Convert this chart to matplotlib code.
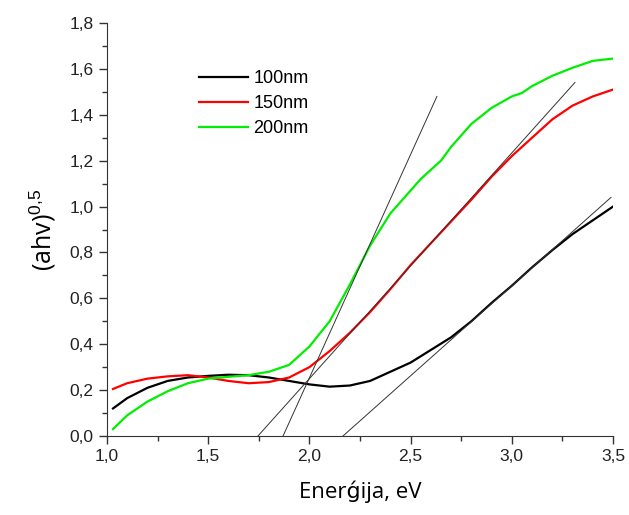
import matplotlib
matplotlib.use('Agg')
import matplotlib.pyplot as plt
from matplotlib.ticker import MultipleLocator, FuncFormatter

plt.rcParams['mathtext.fontset'] = 'custom'
plt.rcParams['mathtext.rm'] = 'Liberation Sans'

# kreivės (nuskaityta nuo paveikslo)
x_100 = [1.03, 1.1, 1.2, 1.3, 1.4, 1.5, 1.6, 1.7, 1.8, 1.9, 2.0, 2.1, 2.2, 2.3,
         2.4, 2.5, 2.6, 2.7, 2.8, 2.9, 3.0, 3.1, 3.2, 3.3, 3.4, 3.5]
y_100 = [0.12, 0.165, 0.21, 0.24, 0.255, 0.262, 0.267, 0.265, 0.255, 0.24, 0.225,
         0.215, 0.22, 0.24, 0.28, 0.32, 0.375, 0.43, 0.50, 0.58, 0.655, 0.735,
         0.81, 0.88, 0.94, 1.00]

x_150 = [1.03, 1.1, 1.2, 1.3, 1.4, 1.5, 1.6, 1.7, 1.8, 1.9, 2.0, 2.1, 2.2, 2.3,
         2.4, 2.5, 2.6, 2.7, 2.8, 2.9, 3.0, 3.1, 3.2, 3.3, 3.4, 3.5]
y_150 = [0.205, 0.23, 0.25, 0.26, 0.265, 0.255, 0.24, 0.23, 0.235, 0.255, 0.30,
         0.37, 0.45, 0.54, 0.64, 0.745, 0.84, 0.935, 1.03, 1.13, 1.22, 1.30,
         1.38, 1.44, 1.48, 1.51]

x_200 = [1.03, 1.1, 1.2, 1.3, 1.4, 1.5, 1.6, 1.7, 1.8, 1.9, 2.0, 2.1, 2.2, 2.3,
         2.4, 2.5, 2.55, 2.6, 2.65, 2.7, 2.8, 2.9, 3.0, 3.05, 3.1, 3.2, 3.3,
         3.4, 3.5]
y_200 = [0.03, 0.09, 0.15, 0.195, 0.23, 0.25, 0.258, 0.265, 0.28, 0.31, 0.39,
         0.50, 0.66, 0.83, 0.97, 1.07, 1.12, 1.16, 1.20, 1.26, 1.36, 1.43, 1.48,
         1.495, 1.525, 1.57, 1.605, 1.635, 1.645]

# liestinės (pradžia ir pabaiga)
tan_x = [[1.870, 2.630], [1.746, 3.312], [2.166, 3.490]]
tan_y = [[0.0, 1.480], [0.0, 1.541], [0.0, 1.040]]

fig = plt.figure(figsize=(6.29, 5.15), dpi=100)
ax = fig.add_axes([0.170, 0.1534, 0.8046, 0.8019])

ax.plot(x_100, y_100, color='black', lw=1.6, label='100nm')
ax.plot(x_150, y_150, color='#ff0000', lw=1.6, label='150nm')
ax.plot(x_200, y_200, color='#00ee00', lw=1.6, label='200nm')
for tx, ty in zip(tan_x, tan_y):
    ax.plot(tx, ty, color='#333333', lw=0.7)

ax.set_xlim(1.0, 3.5)
ax.set_ylim(0.0, 1.8)
ax.xaxis.set_major_locator(MultipleLocator(0.5))
ax.xaxis.set_minor_locator(MultipleLocator(0.25))
ax.yaxis.set_major_locator(MultipleLocator(0.2))
ax.yaxis.set_minor_locator(MultipleLocator(0.1))
fmt = FuncFormatter(lambda v, p: f'{v:.1f}'.replace('.', ','))
ax.xaxis.set_major_formatter(fmt)
ax.yaxis.set_major_formatter(fmt)

for s in ['top', 'right']:
    ax.spines[s].set_visible(False)
for s in ['left', 'bottom']:
    ax.spines[s].set_color('#333333')
ax.tick_params(which='major', direction='out', length=6, width=1, colors='#333333',
               labelsize=12.5, labelcolor='#222222')
ax.tick_params(which='minor', direction='out', length=3.5, width=1, colors='#333333')
for lab in ax.get_xticklabels() + ax.get_yticklabels():
    lab.set_family('Liberation Sans')

ax.set_xlabel('Enerǵija, eV', fontsize=16, family=['Open Sans', 'DejaVu Sans'], labelpad=12)
ax.set_ylabel('(ahv)$^{0{,}5}$', fontsize=18, family='Open Sans', labelpad=8)

leg = ax.legend(loc='upper left', bbox_to_anchor=(0.15, 0.925), frameon=False,
                prop={'family': 'Liberation Sans', 'size': 13},
                handlelength=2.7, handletextpad=0.3, labelspacing=0.45)

plt.savefig('out.png', dpi=100)
